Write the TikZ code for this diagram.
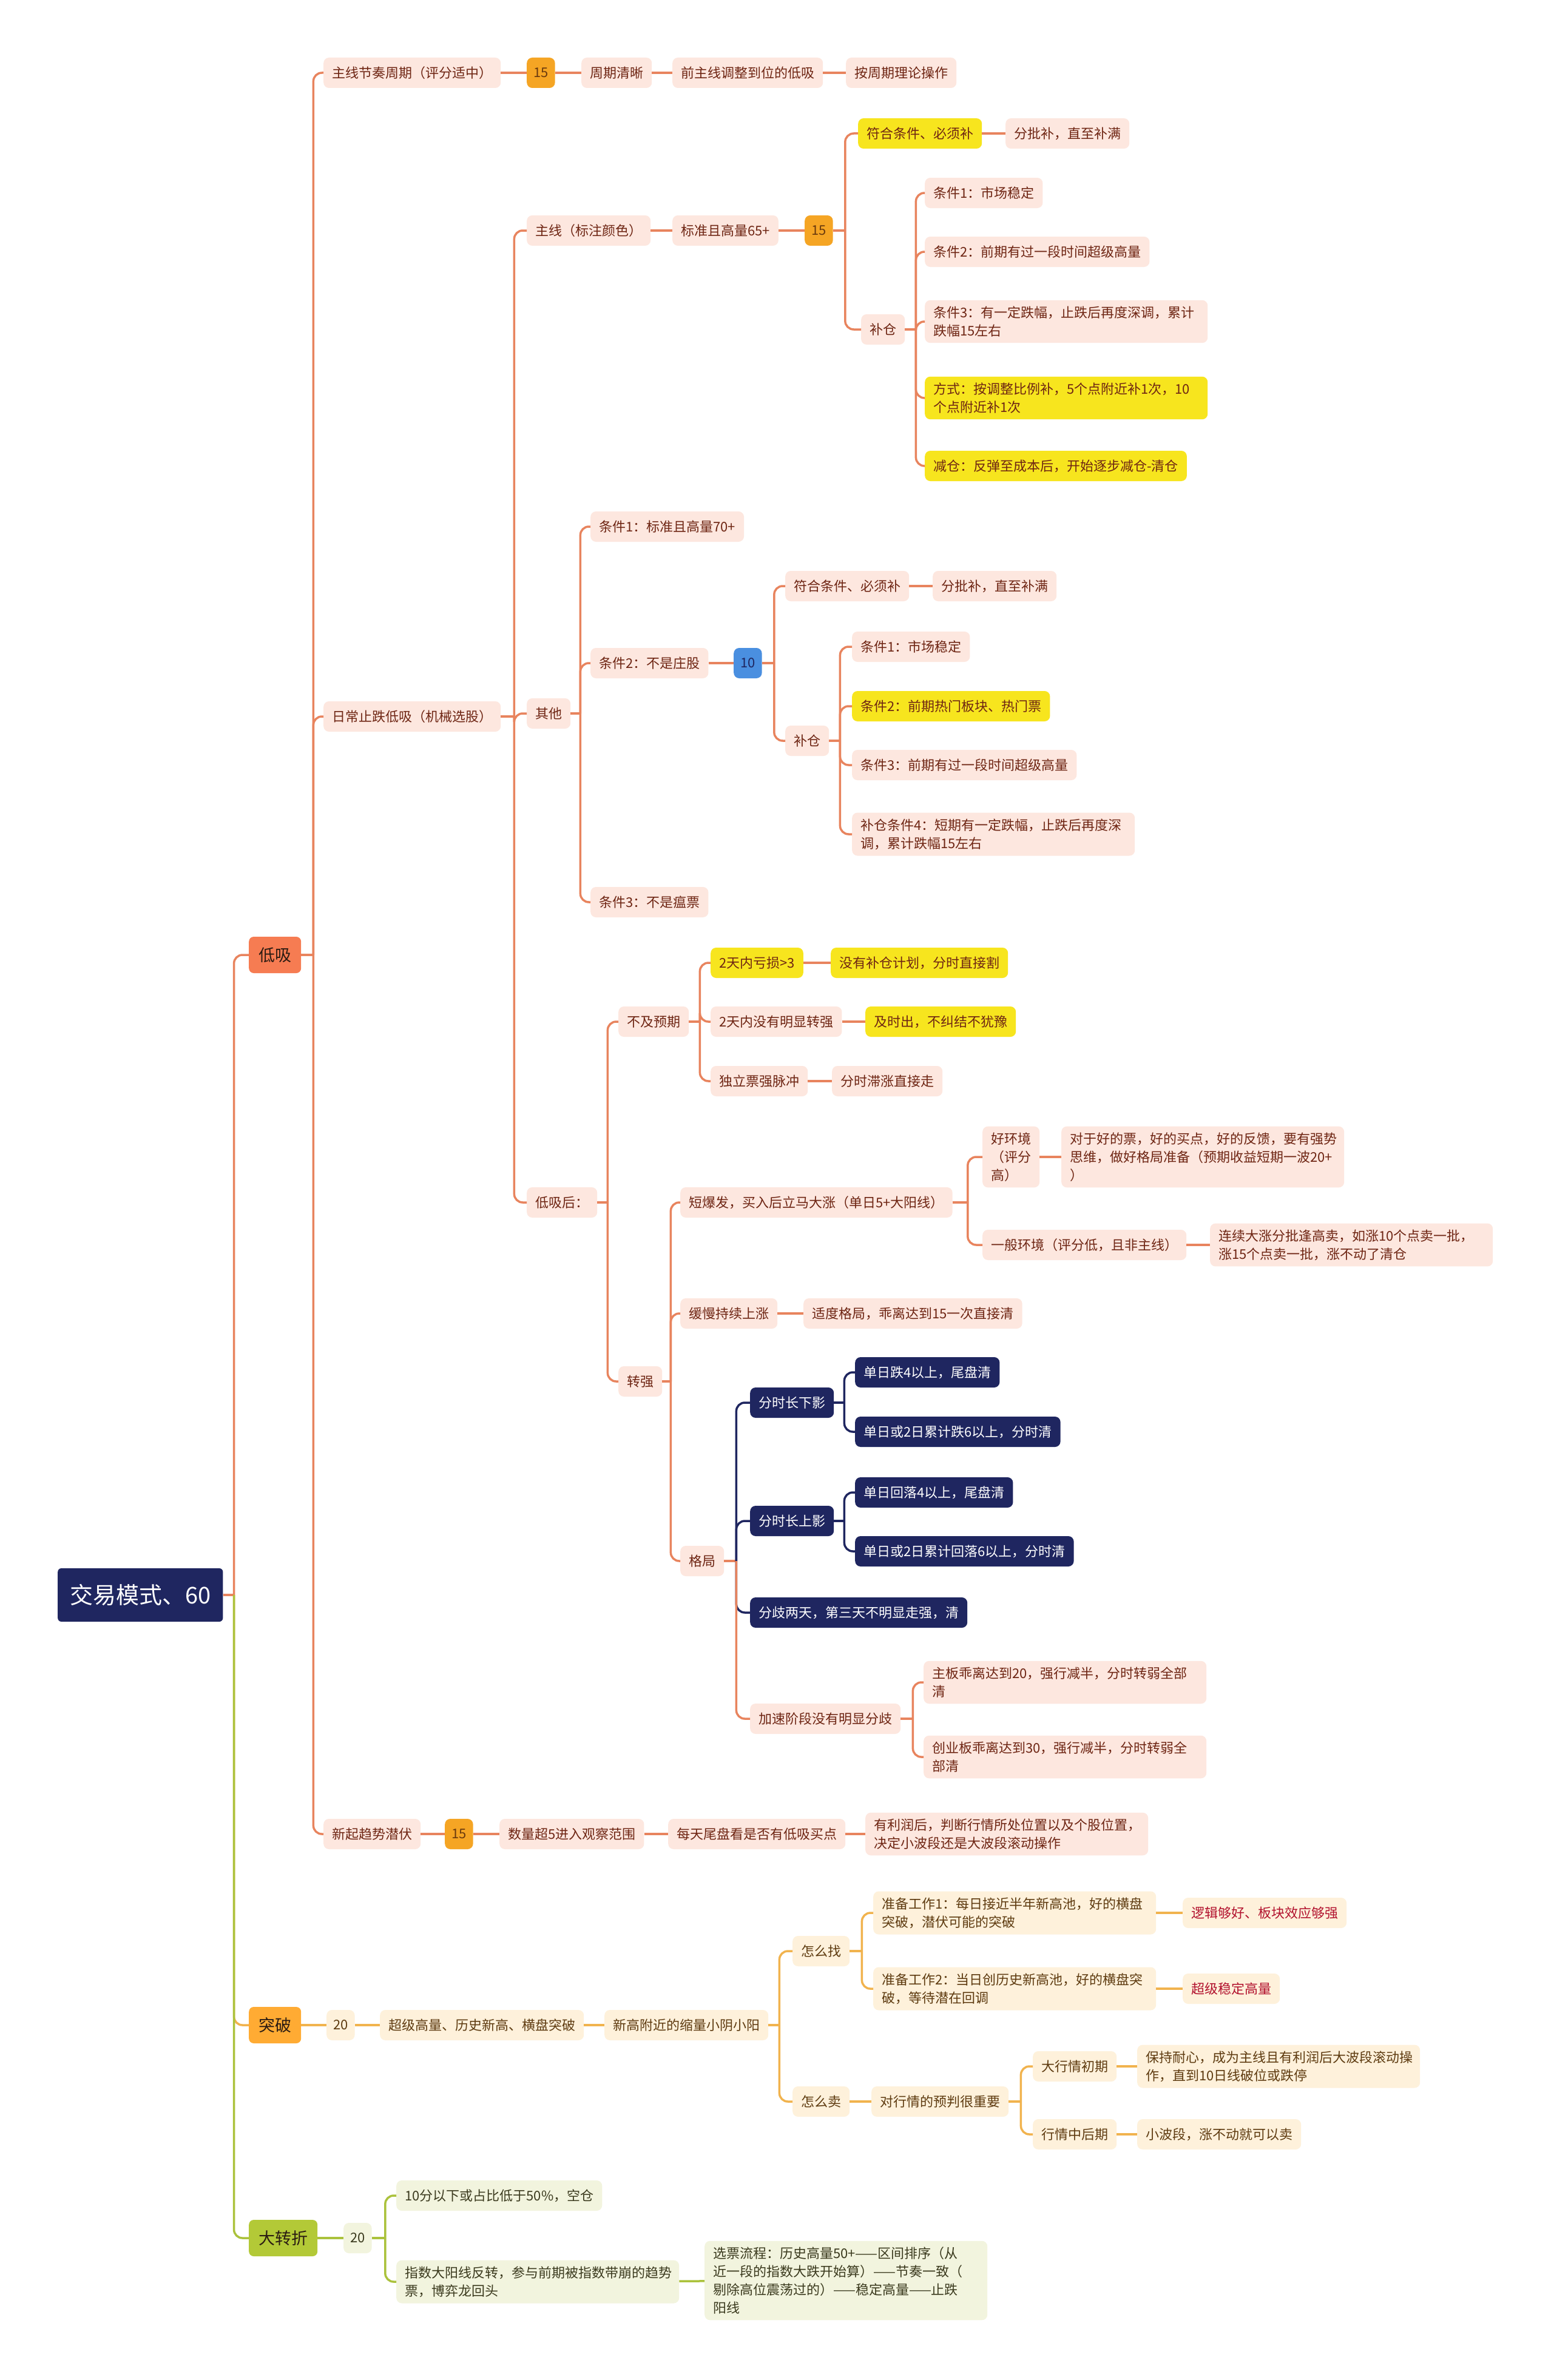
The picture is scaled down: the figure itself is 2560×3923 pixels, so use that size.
\documentclass[tikz,border=0pt]{standalone}
\usepackage{fontspec}
\setmainfont{Noto Sans CJK SC}

\definecolor{lxline}{HTML}{E8845E}
\definecolor{lxfill}{HTML}{FDE7DF}
\definecolor{lxtext}{HTML}{6E2513}
\definecolor{yel}{HTML}{F7E51E}
\definecolor{numor}{HTML}{F5A524}
\definecolor{numtext}{HTML}{6A3A0E}
\definecolor{numblue}{HTML}{4A8FE0}
\definecolor{navy}{HTML}{1F2660}
\definecolor{dxhead}{HTML}{F67C52}
\definecolor{tphead}{HTML}{FFAB33}
\definecolor{tpline}{HTML}{F1B34E}
\definecolor{tpfill}{HTML}{FEF1DB}
\definecolor{tptext}{HTML}{5E3B10}
\definecolor{redtext}{HTML}{B2122E}
\definecolor{dzhead}{HTML}{B3C937}
\definecolor{dzline}{HTML}{ABC23C}
\definecolor{dzfill}{HTML}{F2F4DE}
\definecolor{dztext}{HTML}{3B3A1E}
\definecolor{headtext}{HTML}{2A1B12}

\tikzset{
	leaf/.style={rounded corners=9, inner xsep=14, inner ysep=10, minimum height=50, anchor=west, align=left, font=\fontsize{22}{30}\selectfont},
	wrap/.style={text width=438},
	lx/.style={leaf, fill=lxfill, text=lxtext},
	lxy/.style={leaf, fill=yel, text=lxtext},
	lxnum/.style={leaf, fill=numor, text=numtext, inner xsep=11},
	lxblue/.style={leaf, fill=numblue, text=navy, inner xsep=11},
	nv/.style={leaf, fill=navy, text=white},
	tp/.style={leaf, fill=tpfill, text=tptext},
	tpred/.style={tp, text=redtext},
	dz/.style={leaf, fill=dzfill, text=dztext},
	head/.style={rounded corners=8, anchor=west, minimum height=60, inner xsep=16, text=headtext, font=\fontsize{27}{32}\selectfont},
	root/.style={fill=navy, text=white, rounded corners=6, anchor=west, minimum height=88, inner xsep=20, font=\fontsize{38}{44}\selectfont},
	lnA/.style={draw=lxline, line width=3.5},
	lnN/.style={draw=navy, line width=3.5},
	lnT/.style={draw=tpline, line width=3.5},
	lnD/.style={draw=dzline, line width=3.5},
	rc/.style={rounded corners=14}
}

\begin{document}
\begin{tikzpicture}[x=1pt,y=-1pt]
				% Paths, nodes and wires:
				\useasboundingbox[fill=white] (0,0) rectangle (2560,3923);
				\node[root] (root) at (95,2629) {交易模式、60};
				\node[head, fill=dxhead] (dx) at (410,1574) {低吸};
				\node[head, fill=tphead] (tp) at (410,3338) {突破};
				\node[head, fill=dzhead] (dz) at (410,3689) {大转折};

				\node[lx] (jzzq) at (533,120) {主线节奏周期（评分适中）};
				\node[lxnum] (n15a) at (868,120) {15};
				\node[lx] (zqqx) at (958,120) {周期清晰};
				\node[lx] (qzx) at (1108,120) {前主线调整到位的低吸};
				\node[lx] (azq) at (1394,120) {按周期理论操作};

				\node[lx] (rczd) at (533,1181) {日常止跌低吸（机械选股）};
				\node[lx] (zxbz) at (868,380) {主线（标注颜色）};
				\node[lx] (bz65) at (1108,380) {标准且高量65+};
				\node[lxnum] (n15b) at (1326,380) {15};
				\node[lxy] (fhA) at (1414,220) {符合条件、必须补};
				\node[lx] (fpA) at (1657,220) {分批补，直至补满};
				\node[lx] (bcA) at (1419,543) {补仓};
				\node[lx] (tjA1) at (1524,318) {条件1：市场稳定};
				\node[lx] (tjA2) at (1524,415) {条件2：前期有过一段时间超级高量};
				\node[lx, wrap] (tjA3) at (1524,530) {条件3：有一定跌幅，止跌后再度深调，累计\\跌幅15左右};
				\node[lxy, wrap] (fsA) at (1524,656) {方式：按调整比例补，5个点附近补1次，10\\个点附近补1次};
				\node[lxy] (jcA) at (1524,768) {减仓：反弹至成本后，开始逐步减仓-清仓};

				\node[lx] (qt) at (868,1176) {其他};
				\node[lx] (tjB1) at (973,868) {条件1：标准且高量70+};
				\node[lx] (tjB2) at (973,1093) {条件2：不是庄股};
				\node[lxblue] (n10) at (1209,1093) {10};
				\node[lx] (fhB) at (1294,966) {符合条件、必须补};
				\node[lx] (fpB) at (1537,966) {分批补，直至补满};
				\node[lx] (bcB) at (1294,1221) {补仓};
				\node[lx] (tjC1) at (1404,1066) {条件1：市场稳定};
				\node[lxy] (tjC2) at (1404,1164) {条件2：前期热门板块、热门票};
				\node[lx] (tjC3) at (1404,1261) {条件3：前期有过一段时间超级高量};
				\node[lx, wrap] (tjC4) at (1404,1375) {补仓条件4：短期有一定跌幅，止跌后再度深\\调，累计跌幅15左右};
				\node[lx] (tjB3) at (973,1487) {条件3：不是瘟票};

				\node[lx] (dxh) at (868,1982) {低吸后：};
				\node[lx] (bjyq) at (1019,1684) {不及预期};
				\node[lxy] (ks3) at (1171,1587) {2天内亏损>3};
				\node[lxy] (mybc) at (1369,1587) {没有补仓计划，分时直接割};
				\node[lx] (mymx) at (1171,1684) {2天内没有明显转强};
				\node[lxy] (jsc) at (1426,1684) {及时出，不纠结不犹豫};
				\node[lx] (dlp) at (1171,1782) {独立票强脉冲};
				\node[lx] (fszz) at (1371,1782) {分时滞涨直接走};
				\node[lx] (zq) at (1019,2277) {转强};
				\node[lx] (dbf) at (1121,1982) {短爆发，买入后立马大涨（单日5+大阳线）};
				\node[lx, text width=66] (hhj) at (1619,1907) {好环境\\（评分\\高）};
				\node[lx, wrap] (dyhp) at (1749,1907) {对于好的票，好的买点，好的反馈，要有强势\\思维，做好格局准备（预期收益短期一波20+\\）};
				\node[lx] (ybhj) at (1619,2052) {一般环境（评分低，且非主线）};
				\node[lx, wrap] (lxdz) at (1994,2052) {连续大涨分批逢高卖，如涨10个点卖一批，\\涨15个点卖一批，涨不动了清仓};
				\node[lx] (hmcx) at (1121,2165) {缓慢持续上涨};
				\node[lx] (sdgj) at (1324,2165) {适度格局，乖离达到15一次直接清};
				\node[lx] (gj) at (1121,2573) {格局};
				\node[nv] (fsxy) at (1236,2312) {分时长下影};
				\node[nv] (dd4) at (1409,2262) {单日跌4以上，尾盘清};
				\node[nv] (dd6) at (1409,2360) {单日或2日累计跌6以上，分时清};
				\node[nv] (fssy) at (1236,2507) {分时长上影};
				\node[nv] (hl4) at (1409,2460) {单日回落4以上，尾盘清};
				\node[nv] (hl6) at (1409,2557) {单日或2日累计回落6以上，分时清};
				\node[nv] (fqlt) at (1236,2658) {分歧两天，第三天不明显走强，清};
				\node[lx] (jsjd) at (1236,2833) {加速阶段没有明显分歧};
				\node[lx, wrap] (zbgl) at (1522,2773) {主板乖离达到20，强行减半，分时转弱全部\\清};
				\node[lx, wrap] (cybgl) at (1522,2896) {创业板乖离达到30，强行减半，分时转弱全\\部清};

				\node[lx] (xqqs) at (533,3023) {新起趋势潜伏};
				\node[lxnum] (n15c) at (733,3023) {15};
				\node[lx] (slc5) at (823,3023) {数量超5进入观察范围};
				\node[lx] (mtwp) at (1101,3023) {每天尾盘看是否有低吸买点};
				\node[lx, wrap] (ylrh) at (1426,3023) {有利润后，判断行情所处位置以及个股位置，\\决定小波段还是大波段滚动操作};

				\node[tp, inner xsep=11] (n20a) at (538,3338) {20};
				\node[tp] (cjgl) at (626,3338) {超级高量、历史新高、横盘突破};
				\node[tp] (xgfj) at (996,3338) {新高附近的缩量小阴小阳};
				\node[tp] (zmz) at (1306,3216) {怎么找};
				\node[tp, wrap] (zb1) at (1439,3153) {准备工作1：每日接近半年新高池，好的横盘\\突破，潜伏可能的突破};
				\node[tpred] (ljgh) at (1949,3153) {逻辑够好、板块效应够强};
				\node[tp, wrap] (zb2) at (1439,3278) {准备工作2：当日创历史新高池，好的横盘突\\破，等待潜在回调};
				\node[tpred] (cjwd) at (1949,3278) {超级稳定高量};
				\node[tp] (zmm) at (1306,3464) {怎么卖};
				\node[tp] (dhq) at (1436,3464) {对行情的预判很重要};
				\node[tp] (dhqc) at (1702,3406) {大行情初期};
				\node[tp, wrap] (bcnx) at (1874,3406) {保持耐心，成为主线且有利润后大波段滚动操\\作，直到10日线破位或跌停};
				\node[tp] (hqzh) at (1702,3518) {行情中后期};
				\node[tp] (xbd) at (1874,3518) {小波段，涨不动就可以卖};

				\node[dz, inner xsep=11] (n20b) at (566,3689) {20};
				\node[dz] (kc) at (653,3619) {10分以下或占比低于50\%，空仓};
				\node[dz, wrap] (zsdy) at (653,3761) {指数大阳线反转，参与前期被指数带崩的趋势\\票，博弈龙回头};
				\node[dz, wrap] (xplc) at (1161,3759) {选票流程：历史高量50+——区间排序（从\\近一段的指数大跌开始算）——节奏一致（\\剔除高位震荡过的）——稳定高量——止跌\\阳线};

				\draw[lnA] (root.east) -- ++(18,0) coordinate (rJ);
				\draw[lnA, rc] (rJ) |- (dx.west);
				\draw[lnT, rc] (rJ) |- (tp.west);
				\draw[lnD, rc] (rJ) |- (dz.west);

				\draw[lnA] (dx.east) -- ++(20,0) coordinate (dxJ);
				\foreach \k in {jzzq,rczd,xqqs} \draw[lnA, rc] (dxJ) |- (\k.west);
				\draw[lnA] (jzzq) -- (n15a) -- (zqqx) -- (qzx) -- (azq);

				\draw[lnA] (rczd.east) -- ++(22,0) coordinate (rcJ);
				\foreach \k in {zxbz,qt,dxh} \draw[lnA, rc] (rcJ) |- (\k.west);
				\draw[lnA] (zxbz) -- (bz65) -- (n15b);
				\draw[lnA] (n15b.east) -- ++(20,0) coordinate (bJ);
				\foreach \k in {fhA,bcA} \draw[lnA, rc] (bJ) |- (\k.west);
				\draw[lnA] (fhA) -- (fpA);
				\draw[lnA] (bcA.east) -- ++(18,0) coordinate (bcAJ);
				\foreach \k in {tjA1,tjA2,tjA3,fsA,jcA} \draw[lnA, rc] (bcAJ) |- (\k.west);

				\draw[lnA] (qt.east) -- ++(16,0) coordinate (qtJ);
				\foreach \k in {tjB1,tjB2,tjB3} \draw[lnA, rc] (qtJ) |- (\k.west);
				\draw[lnA] (tjB2) -- (n10);
				\draw[lnA] (n10.east) -- ++(20,0) coordinate (n10J);
				\foreach \k in {fhB,bcB} \draw[lnA, rc] (n10J) |- (\k.west);
				\draw[lnA] (fhB) -- (fpB);
				\draw[lnA] (bcB.east) -- ++(18,0) coordinate (bcBJ);
				\foreach \k in {tjC1,tjC2,tjC3,tjC4} \draw[lnA, rc] (bcBJ) |- (\k.west);

				\draw[lnA] (dxh.east) -- ++(17,0) coordinate (dxhJ);
				\foreach \k in {bjyq,zq} \draw[lnA, rc] (dxhJ) |- (\k.west);
				\draw[lnA] (bjyq.east) -- ++(18,0) coordinate (bjJ);
				\foreach \k in {ks3,mymx,dlp} \draw[lnA, rc] (bjJ) |- (\k.west);
				\draw[lnA] (ks3) -- (mybc);
				\draw[lnA] (mymx) -- (jsc);
				\draw[lnA] (dlp) -- (fszz);
				\draw[lnA] (zq.east) -- ++(14,0) coordinate (zqJ);
				\foreach \k in {dbf,hmcx,gj} \draw[lnA, rc] (zqJ) |- (\k.west);
				\draw[lnA] (dbf.east) -- ++(25,0) coordinate (dbJ);
				\foreach \k in {hhj,ybhj} \draw[lnA, rc] (dbJ) |- (\k.west);
				\draw[lnA] (hhj) -- (dyhp);
				\draw[lnA] (ybhj) -- (lxdz);
				\draw[lnA] (hmcx) -- (sdgj);
				\draw[lnA] (gj.east) -- ++(20,0) coordinate (gjJ);
				\foreach \k in {fsxy,fssy,fqlt} \draw[lnN, rc] (gjJ) |- (\k.west);
				\draw[lnA, rc] (gjJ) |- (jsjd.west);
				\draw[lnN] (fsxy.east) -- ++(17,0) coordinate (xyJ);
				\foreach \k in {dd4,dd6} \draw[lnN, rc] (xyJ) |- (\k.west);
				\draw[lnN] (fssy.east) -- ++(17,0) coordinate (syJ);
				\foreach \k in {hl4,hl6} \draw[lnN, rc] (syJ) |- (\k.west);
				\draw[lnA] (jsjd.east) -- ++(20,0) coordinate (jsJ);
				\foreach \k in {zbgl,cybgl} \draw[lnA, rc] (jsJ) |- (\k.west);

				\draw[lnA] (xqqs) -- (n15c) -- (slc5) -- (mtwp) -- (ylrh);

				\draw[lnT] (tp) -- (n20a) -- (cjgl) -- (xgfj);
				\draw[lnT] (xgfj.east) -- ++(18,0) coordinate (xgJ);
				\foreach \k in {zmz,zmm} \draw[lnT, rc] (xgJ) |- (\k.west);
				\draw[lnT] (zmz.east) -- ++(20,0) coordinate (zmzJ);
				\foreach \k in {zb1,zb2} \draw[lnT, rc] (zmzJ) |- (\k.west);
				\draw[lnT] (zb1) -- (ljgh);
				\draw[lnT] (zb2) -- (cjwd);
				\draw[lnT] (zmm) -- (dhq);
				\draw[lnT] (dhq.east) -- ++(20,0) coordinate (dhqJ);
				\foreach \k in {dhqc,hqzh} \draw[lnT, rc] (dhqJ) |- (\k.west);
				\draw[lnT] (dhqc) -- (bcnx);
				\draw[lnT] (hqzh) -- (xbd);

				\draw[lnD] (dz) -- (n20b);
				\draw[lnD] (n20b.east) -- ++(22,0) coordinate (dzJ);
				\foreach \k in {kc,zsdy} \draw[lnD, rc] (dzJ) |- (\k.west);
				\draw[lnD] (zsdy) -- (xplc);
			\end{tikzpicture}
\end{document}
